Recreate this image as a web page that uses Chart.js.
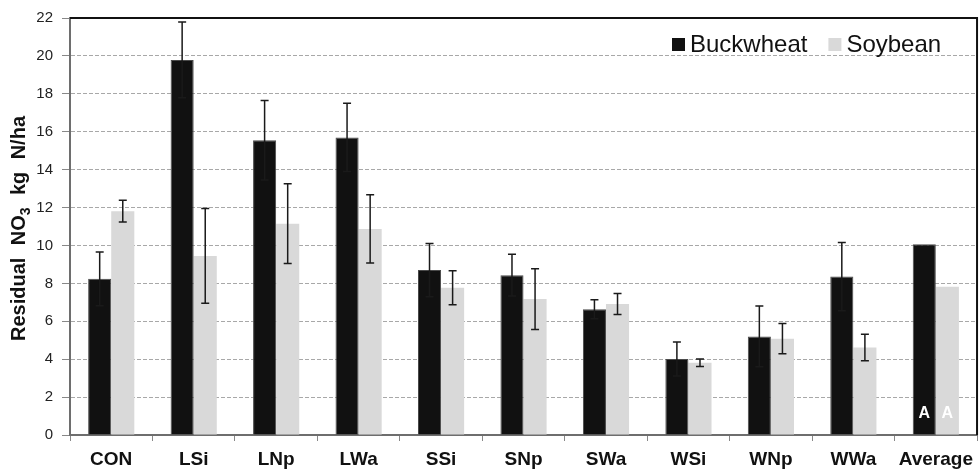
<!DOCTYPE html>
<html>
<head>
<meta charset="utf-8">
<script src="https://cdn.jsdelivr.net/npm/chart.js@4/dist/chart.umd.min.js"></script>
<style>
  html, body { margin: 0; padding: 0; background: #fff; }
  #wrap { width: 980px; height: 470px; }
</style>
</head>
<body>
<div id="wrap"><canvas id="c" width="980" height="470"></canvas></div>
<script>
// Residual soil nitrate after each cover-crop treatment
const categories = ['CON', 'LSi', 'LNp', 'LWa', 'SSi', 'SNp', 'SWa', 'WSi', 'WNp', 'WWa', 'Average'];
const buckwheat = [8.24, 19.79, 15.55, 15.70, 8.70, 8.43, 6.63, 4.01, 5.20, 8.36, 10.06];
const soybean = [11.81, 9.45, 11.15, 10.87, 7.77, 7.17, 6.91, 3.81, 5.08, 4.62, 7.82];
const buckwheatErr = [1.42, 2.0, 2.1, 1.8, 1.4, 1.1, 0.5, 0.9, 1.6, 1.8, null];
const soybeanErr = [0.57, 2.5, 2.1, 1.8, 0.9, 1.6, 0.55, 0.2, 0.8, 0.7, null];
const buckwheatLetters = ['', '', '', '', '', '', '', '', '', '', 'A'];
const soybeanLetters = ['', '', '', '', '', '', '', '', '', '', 'A'];
const yTicks = [0, 2, 4, 6, 8, 10, 12, 14, 16, 18, 20, 22];

const FONT = '"Liberation Sans", Arial, sans-serif';

// Error bars (mean ± SE) drawn on top of each bar
const errorBars = {
  id: 'errorBars',
  afterDatasetsDraw(chart) {
    const ctx = chart.ctx;
    const y = chart.scales.y;
    chart.data.datasets.forEach((ds, i) => {
      const meta = chart.getDatasetMeta(i);
      meta.data.forEach((bar, j) => {
        const e = ds.errors[j];
        if (e == null) return;
        const v = ds.data[j];
        const top = y.getPixelForValue(v + e);
        const bot = y.getPixelForValue(v - e);
        const cap = 4;
        ctx.save();
        ctx.strokeStyle = '#1a1a1a';
        ctx.lineWidth = 1.5;
        ctx.beginPath();
        ctx.moveTo(bar.x, top); ctx.lineTo(bar.x, bot);
        ctx.moveTo(bar.x - cap, top); ctx.lineTo(bar.x + cap, top);
        ctx.moveTo(bar.x - cap, bot); ctx.lineTo(bar.x + cap, bot);
        ctx.stroke();
        ctx.restore();
      });
    });
  }
};

// Significance letters inside the bars
const barLetters = {
  id: 'barLetters',
  afterDatasetsDraw(chart) {
    const ctx = chart.ctx;
    const y = chart.scales.y;
    chart.data.datasets.forEach((ds, i) => {
      const meta = chart.getDatasetMeta(i);
      meta.data.forEach((bar, j) => {
        const t = ds.letters[j];
        if (!t) return;
        ctx.save();
        ctx.fillStyle = '#ffffff';
        ctx.font = 'bold 16px ' + FONT;
        ctx.textAlign = 'center';
        ctx.textBaseline = 'alphabetic';
        ctx.fillText(t, bar.x, y.getPixelForValue(0) - 17);
        ctx.restore();
      });
    });
  }
};

// Frame (top and right edges), legend and rotated axis title with subscript
const decorations = {
  id: 'decorations',
  afterDraw(chart) {
    const ctx = chart.ctx;
    const a = chart.chartArea;
    ctx.save();
    ctx.strokeStyle = '#111';
    ctx.lineWidth = 2;
    ctx.beginPath();
    ctx.moveTo(a.left, a.top);
    ctx.lineTo(a.right, a.top);
    ctx.lineTo(a.right, a.bottom);
    ctx.stroke();
    ctx.restore();

    // legend
    ctx.save();
    ctx.font = '24px ' + FONT;
    ctx.textBaseline = 'alphabetic';
    let x = 672;
    const base = 52;
    chart.data.datasets.forEach((ds, i) => {
      ctx.fillStyle = ds.backgroundColor;
      ctx.fillRect(x, 38, 13, 13);
      ctx.fillStyle = '#111';
      ctx.fillText(ds.label, x + 18, base);
      x += 18 + ctx.measureText(ds.label).width + 21;
    });
    ctx.restore();

    // y-axis title: Residual NO3 kg N/ha
    ctx.save();
    const cy = (a.top + a.bottom) / 2 + 2;
    ctx.translate(25, cy);
    ctx.rotate(-Math.PI / 2);
    ctx.fillStyle = '#111';
    ctx.textBaseline = 'alphabetic';
    const big = 'bold 20px ' + FONT;
    const small = 'bold 14px ' + FONT;
    const parts = [
      { t: 'Residual', f: big, dy: 0 },
      { t: 'NO', f: big, dy: 0, gap: true },
      { t: '3', f: small, dy: 5 },
      { t: 'kg', f: big, dy: 0, gap: true },
      { t: 'N/ha', f: big, dy: 0, gap: true }
    ];
    let total = 0;
    parts.forEach(p => { ctx.font = p.f; p.w = ctx.measureText(p.t).width; total += p.w; });
    const gap = Math.max(6, (225 - total) / 3);
    total += gap * 3;
    let px = -total / 2;
    parts.forEach(p => {
      if (p.gap) px += gap;
      ctx.font = p.f;
      ctx.fillText(p.t, px, p.dy);
      px += p.w;
    });
    ctx.restore();
  }
};

new Chart(document.getElementById('c'), {
  type: 'bar',
  data: {
    labels: categories,
    datasets: [
      {
        label: 'Buckwheat',
        data: buckwheat,
        errors: buckwheatErr,
        letters: buckwheatLetters,
        backgroundColor: '#111111',
        borderColor: '#4a4a4a',
        borderWidth: 1
      },
      {
        label: 'Soybean',
        data: soybean,
        errors: soybeanErr,
        letters: soybeanLetters,
        backgroundColor: '#d9d9d9',
        borderColor: '#d9d9d9',
        borderWidth: 0
      }
    ]
  },
  options: {
    responsive: false,
    animation: false,
    devicePixelRatio: 1,
    layout: { padding: { top: 16, right: 1, left: 0, bottom: 0 } },
    plugins: {
      legend: { display: false },
      tooltip: { enabled: false }
    },
    datasets: {
      bar: { categoryPercentage: 0.56, barPercentage: 1.0 }
    },
    scales: {
      x: {
        afterFit(s) { s.height = 35; },
        grid: {
          offset: true,
          drawOnChartArea: false,
          drawTicks: true,
          tickLength: 6,
          color: '#888',
          lineWidth: 1
        },
        border: { display: true, color: '#6e6e6e', width: 2 },
        ticks: {
          color: '#111',
          font: { family: FONT, size: 19, weight: 'bold' },
          padding: 7,
          maxRotation: 0,
          autoSkip: false
        }
      },
      y: {
        min: 0,
        max: 22,
        afterFit(s) { s.width = 70; },
        afterBuildTicks(s) { s.ticks = yTicks.map(v => ({ value: v })); },
        grid: {
          color: '#a8a8a8',
          lineWidth: 1,
          tickLength: 8,
          tickColor: '#888',
          drawTicks: true
        },
        border: { display: true, color: '#6e6e6e', width: 2, dash: [4, 2] },
        ticks: {
          color: '#222',
          font: { family: FONT, size: 15 },
          padding: 9
        }
      }
    }
  },
  plugins: [errorBars, barLetters, decorations]
});
</script>
</body>
</html>
